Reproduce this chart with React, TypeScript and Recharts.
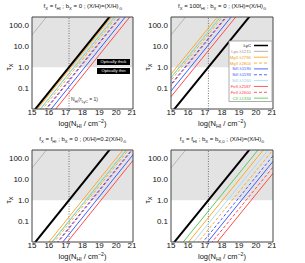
import React from 'react';
import { LineChart, Line, XAxis, YAxis, ReferenceArea, ReferenceLine } from 'recharts';

const IONS = ['LyC', 'Lya1215', 'MgII2796', 'MgII2804', 'SiII1190', 'SiII1193', 'SiII1260', 'FeII2587', 'FeII2600', 'CII1334'];
const LEGEND_NAMES = ['LyC', 'Lyα λ1215', 'MgII λ2796', 'MgII λ2804', 'SiII λ1190', 'SiII λ1193', 'SiII λ1260', 'FeII λ2587', 'FeII λ2600', 'CII λ1334'];

// log(N_HI) at which tau_X = 1 (same order as IONS)
const TAU1_SOLAR = [17.2, 13.46, 17.33, 17.63, 18.14, 17.82, 17.48, 18.41, 17.87, 17.5];
const TAU1_F100 = [17.2, 13.46, 15.33, 15.63, 16.14, 15.82, 15.48, 16.41, 15.87, 15.5];
const TAU1_Z02 = [17.2, 13.46, 18.0, 18.32, 18.83, 18.51, 18.17, 19.1, 18.56, 18.2];
const TAU1_BTH = [17.2, 13.46, 18.03, 18.6, 19.15, 18.88, 18.32, 19.72, 19.42, 17.72];

const X_TICKS = [15, 16, 17, 18, 19, 20, 21];
const Y_TICKS = [0.1, 1, 10, 100];
const Y_MINOR = [0.02, 0.03, 0.04, 0.05, 0.06, 0.07, 0.08, 0.09, 0.2, 0.3, 0.4, 0.5, 0.6, 0.7, 0.8, 0.9,
  2, 3, 4, 5, 6, 7, 8, 9, 20, 30, 40, 50, 60, 70, 80, 90, 200];
const LYC_EDGE = 17.2;

const FONT = '"Liberation Sans", Arial, sans-serif';
const FRAME = '#444';

const STYLE: Record<string, { color: string; width: number; dash?: string }> = {
  LyC: { color: '#000', width: 2 },
  Lya1215: { color: '#aaa', width: 0.8 },
  MgII2796: { color: '#ffa826', width: 1 },
  MgII2804: { color: '#ffa826', width: 1, dash: '3 2' },
  SiII1190: { color: '#3f5cff', width: 1 },
  SiII1193: { color: '#3f5cff', width: 1, dash: '3 2' },
  SiII1260: { color: '#a8dcf5', width: 1 },
  FeII2587: { color: '#ff4a4a', width: 1 },
  FeII2600: { color: '#ff4a4a', width: 1, dash: '3 2' },
  CII1334: { color: '#5ccc5c', width: 1 },
};
const TEXT_COLOR: Record<string, string> = {
  LyC: '#000', Lya1215: '#999', MgII2796: '#f0a020', MgII2804: '#f0a020', SiII1190: '#3f5cff',
  SiII1193: '#3f5cff', SiII1260: '#8fd0f0', FeII2587: '#ff3c3c', FeII2600: '#ff3c3c', CII1334: '#4cbf4c',
};
const DRAW_ORDER = [1, 7, 8, 4, 5, 9, 6, 3, 2, 0];

const PLOT_H = 92;
const PANELS = [
  { x: 32, y: 17, w: 101, tau1: TAU1_SOLAR },
  { x: 171, y: 17, w: 102, tau1: TAU1_F100 },
  { x: 32, y: 150, w: 101, tau1: TAU1_Z02 },
  { x: 171, y: 150, w: 102, tau1: TAU1_BTH },
];

const fmtY = (v: number) => (v < 1 ? String(v) : v.toFixed(1));

function Panel({ x, y, w, tau1 }: { x: number; y: number; w: number; tau1: number[] }) {
  const xp: any = { type: 'number', dataKey: 'n', domain: [15, 21], allowDataOverflow: true, ticks: X_TICKS };
  const yp: any = { type: 'number', dataKey: 'tau', scale: 'log', domain: [0.01, 250], allowDataOverflow: true, ticks: Y_TICKS };
  const tickFont = { fontSize: 8, fill: '#111', fontFamily: FONT };
  return (
    <div style={{ position: 'absolute', left: x - 30, top: y - 2 }}>
      <LineChart width={30 + w + 3} height={2 + PLOT_H + 12} margin={{ top: 2, right: 3, bottom: 0, left: 0 }}>
        <XAxis xAxisId="b" {...xp} height={12} tickLine={false} tickSize={0} tickMargin={0.5} axisLine={{ stroke: FRAME }} tick={tickFont} />
        <XAxis xAxisId="bi" {...xp} mirror tick={false} tickSize={3} tickLine={{ stroke: FRAME }} axisLine={false} />
        <XAxis xAxisId="t" orientation="top" {...xp} mirror tick={false} tickSize={3} tickLine={{ stroke: FRAME }} axisLine={{ stroke: FRAME }} />
        <YAxis yAxisId="l" {...yp} width={30} tickLine={false} tickSize={3} tickMargin={0} axisLine={{ stroke: FRAME }} tick={tickFont} tickFormatter={fmtY} />
        <YAxis yAxisId="lm" {...yp} mirror tick={false} tickSize={3} tickLine={{ stroke: FRAME }} axisLine={false} />
        <YAxis yAxisId="ln" {...yp} ticks={Y_MINOR} mirror tick={false} tickSize={1.5} tickLine={{ stroke: FRAME }} axisLine={false} />
        <YAxis yAxisId="r" orientation="right" {...yp} mirror tick={false} tickSize={3} tickLine={{ stroke: FRAME }} axisLine={{ stroke: FRAME }} />
        <YAxis yAxisId="rn" orientation="right" {...yp} ticks={Y_MINOR} mirror tick={false} tickSize={1.5} tickLine={{ stroke: FRAME }} axisLine={false} />
        <ReferenceArea xAxisId="b" yAxisId="l" y1={1} y2={250} fill="#e3e3e3" fillOpacity={1} stroke="none" />
        <ReferenceLine xAxisId="b" yAxisId="l" x={LYC_EDGE} stroke="#555" strokeWidth={0.8} strokeDasharray="1 1.5" />
        {DRAW_ORDER.map(i => {
          const id = IONS[i];
          const s = STYLE[id];
          const data = [{ n: tau1[i] - 3, tau: 0.001 }, { n: tau1[i] + 3, tau: 1000 }];
          return (
            <Line key={id} xAxisId="b" yAxisId="l" data={data} dataKey="tau" stroke={s.color} strokeWidth={s.width}
              strokeDasharray={s.dash} dot={false} activeDot={false} isAnimationActive={false} />
          );
        })}
      </LineChart>
    </div>
  );
}

type Seg = [string, number?];
function Rich({ x, y, size, segs, anchor = 'middle', fill = '#111', rotate }: { x: number; y: number; size: number; segs: Seg[]; anchor?: string; fill?: string; rotate?: number }) {
  let level = 0;
  return (
    <text x={x} y={y} fontSize={size} textAnchor={anchor as any} fill={fill} fontFamily={FONT}
      transform={rotate ? `rotate(${rotate} ${x} ${y})` : undefined}>
      {segs.map(([t, k = 0], i) => {
        const target = k === 1 ? size * 0.3 : k === 2 ? -size * 0.45 : 0;
        const dy = target - level;
        level = target;
        return <tspan key={i} dy={dy} fontSize={k ? size * 0.7 : size}>{t}</tspan>;
      })}
    </text>
  );
}

const TITLES: Seg[][] = [
  [['f'], ['X', 1], [' = f'], ['HI', 1], [' ; b'], ['X', 1], [' = 0 ; (X/H)=(X/H)'], ['⊙', 1]],
  [['f'], ['X', 1], [' = 100f'], ['HI', 1], [' ; b'], ['X', 1], [' = 0 ; (X/H)=(X/H)'], ['⊙', 1]],
  [['f'], ['X', 1], [' = f'], ['HI', 1], [' ; b'], ['X', 1], [' = 0 ; (X/H)=0.2(X/H)'], ['⊙', 1]],
  [['f'], ['X', 1], [' = f'], ['HI', 1], [' ; b'], ['X', 1], [' = b'], ['X,0', 1], [' ; (X/H)=(X/H)'], ['⊙', 1]],
];
const XTITLE: Seg[] = [['log(N'], ['HI', 1], [' / cm'], ['−2', 2], [')']];
const YTITLE: Seg[] = [['τ'], ['X', 1]];

export default function App() {
  const lgX = 251, lgY0 = 45.5, lgStep = 5.85;
  return (
    <div style={{ position: 'absolute', left: 0, top: 0, width: 305, height: 263, background: '#fff', overflow: 'hidden' }}>
      {PANELS.map((p, i) => <Panel key={i} {...p} />)}
      <svg width={305} height={263} style={{ position: 'absolute', left: 0, top: 0 }}>
        {PANELS.map((p, i) => (
          <g key={i}>
            <Rich x={p.x + p.w / 2} y={p.y - 9} size={6} segs={TITLES[i]} />
            <Rich x={p.x + p.w / 2} y={p.y + PLOT_H + 17} size={7.5} segs={XTITLE} />
            <Rich x={p.x - 21} y={p.y + 50} size={8} segs={YTITLE} rotate={-90} />
          </g>
        ))}
        <rect x={97} y={59} width={33} height={6} fill="#000" />
        <text x={113.5} y={63.4} fontSize={4.2} fill="#fff" textAnchor="middle" fontFamily={FONT}>Optically thick</text>
        <rect x={97} y={68} width={33} height={6} fill="#000" />
        <text x={113.5} y={72.4} fontSize={4.2} fill="#fff" textAnchor="middle" fontFamily={FONT}>Optically thin</text>
        <Rich x={71} y={101} size={5} anchor="start" fill="#333" segs={[['N'], ['HI', 1], ['(τ'], ['LyC', 1], [' = 1)']]} />
        <rect x={229} y={41} width={43} height={60.5} fill="#fff" stroke="#999" strokeWidth={0.8} />
        {IONS.map((id, i) => {
          const s = STYLE[id];
          const yy = lgY0 + i * lgStep;
          return (
            <g key={id}>
              <text x={lgX} y={yy + 1.5} fontSize={4.3} fill={TEXT_COLOR[id]} textAnchor="end" fontFamily={FONT}>{LEGEND_NAMES[i]}</text>
              <line x1={254} x2={268} y1={yy} y2={yy} stroke={s.color} strokeWidth={id === 'LyC' ? 1.5 : 0.9} strokeDasharray={s.dash} />
            </g>
          );
        })}
      </svg>
    </div>
  );
}
